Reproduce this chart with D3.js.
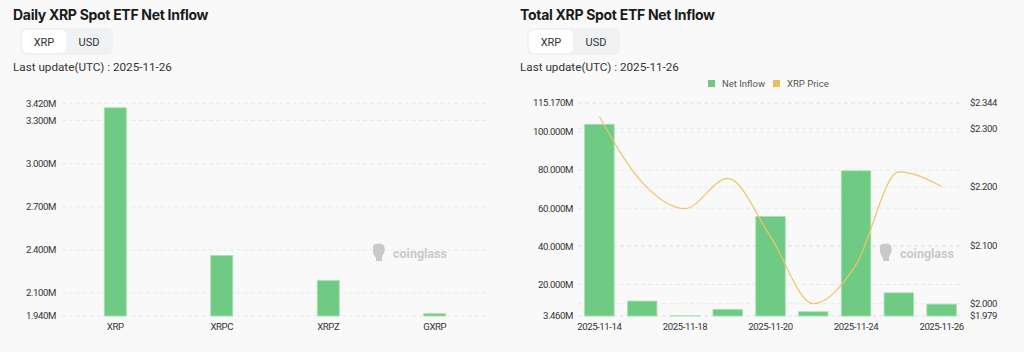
<!DOCTYPE html>
<html>
<head>
<meta charset="utf-8">
<title>XRP Spot ETF Net Inflow</title>
<script src="https://d3js.org/d3.v7.min.js"></script>
<style>
  body { margin: 0; background: #f9f9f9; }
  svg { display: block; font-family: Roboto, "Noto Sans", sans-serif; }
  .title { font-family: Inter, Roboto, sans-serif; font-weight: 700; font-size: 14px; fill: #1a1a1a; letter-spacing: -0.3px; }
  .update { font-size: 11.7px; fill: #333; }
  .tab { font-size: 11px; fill: #333; }
  .tick-label { font-size: 9.6px; fill: #333; letter-spacing: -0.4px; }
  .grid { stroke: #e9e9e9; stroke-dasharray: 4,3; }
  .legend { font-size: 9.5px; fill: #555; }
  .wm { font-size: 12.5px; font-weight: 700; fill: #c9c9c9; }
</style>
</head>
<body>
<script>
// ---- data ----
var dailyFunds = ["XRP", "XRPC", "XRPZ", "GXRP"];
var dailyInflow = [3.389, 2.361, 2.186, 1.956]; // M XRP
var dailyTicks = [1.94, 2.1, 2.4, 2.7, 3.0, 3.3, 3.42];

var totalDates = ["2025-11-14", "2025-11-17", "2025-11-18", "2025-11-19", "2025-11-20",
                  "2025-11-21", "2025-11-24", "2025-11-25", "2025-11-26"];
var totalInflow = [104.0, 11.3, 3.6, 6.95, 55.6, 5.7, 79.6, 15.6, 9.7]; // M XRP
var xrpPrice = [2.321, 2.208, 2.163, 2.215, 2.115, 2.000, 2.067, 2.226, 2.201];
var totalTicks = [3.46, 20, 40, 60, 80, 100, 115.17];
var priceTicks = [1.979, 2.0, 2.1, 2.2, 2.3, 2.344];

var green = "#6fcb84", greenEdge = "#a6e0b3", gold = "#efc46a";

var width = 1024, height = 352;
var svg = d3.select("body").append("svg")
    .attr("width", width)
    .attr("height", height);

// header: title, XRP/USD toggle, last update
function header(x0, title) {
    svg.append("text").attr("class", "title").attr("x", x0).attr("y", 20).text(title);
    svg.append("rect").attr("x", x0 + 7).attr("y", 28).attr("width", 93).attr("height", 27)
        .attr("rx", 6).attr("fill", "#f0f1f3");
    svg.append("rect").attr("x", x0 + 9).attr("y", 30).attr("width", 44).attr("height", 23)
        .attr("rx", 5).attr("fill", "#fff");
    svg.append("text").attr("class", "tab").attr("x", x0 + 31).attr("y", 45.5)
        .attr("text-anchor", "middle").text("XRP");
    svg.append("text").attr("class", "tab").attr("x", x0 + 76).attr("y", 45.5)
        .attr("text-anchor", "middle").text("USD");
    svg.append("text").attr("class", "update").attr("x", x0).attr("y", 70.5)
        .text("Last update(UTC) : 2025-11-26");
}

function watermark(x, y) {
    var g = svg.append("g").attr("transform", "translate(" + x + "," + y + ")");
    g.append("path")
        .attr("d", "M0,-6 C0,-9 3,-10 5,-9 C7,-10 10,-9 11,-7 C12,-5 12,-2 11,0 C10,2 9,3 9,5 L9,8 L3,8 L3,5 C1,3 0,0 0,-3 Z")
        .attr("fill", "#c9c9c9");
    g.append("text").attr("class", "wm").attr("x", 20).attr("y", 4.5).text("coinglass");
}

function grid(scale, ticks, x1, x2) {
    svg.append("g").selectAll("line").data(ticks).join("line")
        .attr("class", "grid")
        .attr("x1", x1).attr("x2", x2)
        .attr("y1", function(d) { return scale(d); })
        .attr("y2", function(d) { return scale(d); });
}

function yLabels(scale, ticks, x, anchor, fmt) {
    svg.append("g").selectAll("text").data(ticks).join("text")
        .attr("class", "tick-label")
        .attr("x", x)
        .attr("y", function(d) { return scale(d); })
        .attr("dy", "0.35em")
        .attr("text-anchor", anchor)
        .text(fmt);
}

var fmtM = function(d) { return d3.format(".3f")(d) + "M"; };
var fmtUsd = function(d) { return "$" + d3.format(".3f")(d); };

// ---- left: daily ----
header(13, "Daily XRP Spot ETF Net Inflow");

var x1 = d3.scaleBand().domain(dailyFunds).range([62, 488]);
var y1 = d3.scaleLinear().domain([1.94, 3.42]).range([316, 103.3]);

grid(y1, dailyTicks, 62, 488);
yLabels(y1, dailyTicks, 56, "end", fmtM);
watermark(373, 253);

var bw1 = 22;
svg.append("g").selectAll("rect").data(dailyFunds).join("rect")
    .attr("x", function(d) { return x1(d) + x1.bandwidth() / 2 - bw1 / 2; })
    .attr("y", function(d, i) { return y1(dailyInflow[i]); })
    .attr("width", bw1)
    .attr("height", function(d, i) { return y1(1.94) - y1(dailyInflow[i]); })
    .attr("fill", green).attr("stroke", greenEdge).attr("stroke-width", 0.8);

svg.append("g").selectAll("text").data(dailyFunds).join("text")
    .attr("class", "tick-label")
    .attr("x", function(d) { return x1(d) + x1.bandwidth() / 2; })
    .attr("y", 330)
    .attr("text-anchor", "middle")
    .text(function(d) { return d; });

// ---- right: total ----
header(520, "Total XRP Spot ETF Net Inflow");

var x2 = d3.scaleBand().domain(totalDates).range([578, 963]);
var y2 = d3.scaleLinear().domain([3.46, 115.17]).range([316, 103]);
var yp = d3.scaleLinear().domain([1.979, 2.344]).range([316, 103]);

grid(y2, totalTicks, 578, 963);
grid(yp, priceTicks, 578, 963);
yLabels(y2, totalTicks, 573, "end", fmtM);
yLabels(yp, priceTicks, 970, "start", fmtUsd);
watermark(880, 253);

var bw2 = 29.5;
svg.append("g").selectAll("rect").data(totalDates).join("rect")
    .attr("x", function(d) { return x2(d) + x2.bandwidth() / 2 - bw2 / 2; })
    .attr("y", function(d, i) { return y2(totalInflow[i]); })
    .attr("width", bw2)
    .attr("height", function(d, i) { return y2(3.46) - y2(totalInflow[i]); })
    .attr("fill", green).attr("stroke", greenEdge).attr("stroke-width", 0.8);

var line = d3.line()
    .x(function(d, i) { return x2(totalDates[i]) + x2.bandwidth() / 2; })
    .y(function(d) { return yp(d); })
    .curve(d3.curveMonotoneX);

svg.append("path").datum(xrpPrice)
    .attr("d", line)
    .attr("fill", "none")
    .attr("stroke", gold)
    .attr("stroke-width", 1.2);

svg.append("g").selectAll("text")
    .data(totalDates.filter(function(d, i) { return i % 2 === 0; }))
    .join("text")
    .attr("class", "tick-label")
    .attr("x", function(d) { return x2(d) + x2.bandwidth() / 2; })
    .attr("y", 330)
    .attr("text-anchor", "middle")
    .text(function(d) { return d; });

// legend
var legendItems = [{ name: "Net Inflow", color: green, x: 708 }, { name: "XRP Price", color: "#e8bf5e", x: 773 }];
var lg = svg.append("g").selectAll("g").data(legendItems).join("g")
    .attr("transform", function(d) { return "translate(" + d.x + ",80)"; });
lg.append("rect").attr("width", 7).attr("height", 7).attr("fill", function(d) { return d.color; });
lg.append("text").attr("class", "legend").attr("x", 14).attr("y", 7).text(function(d) { return d.name; });
</script>
</body>
</html>
